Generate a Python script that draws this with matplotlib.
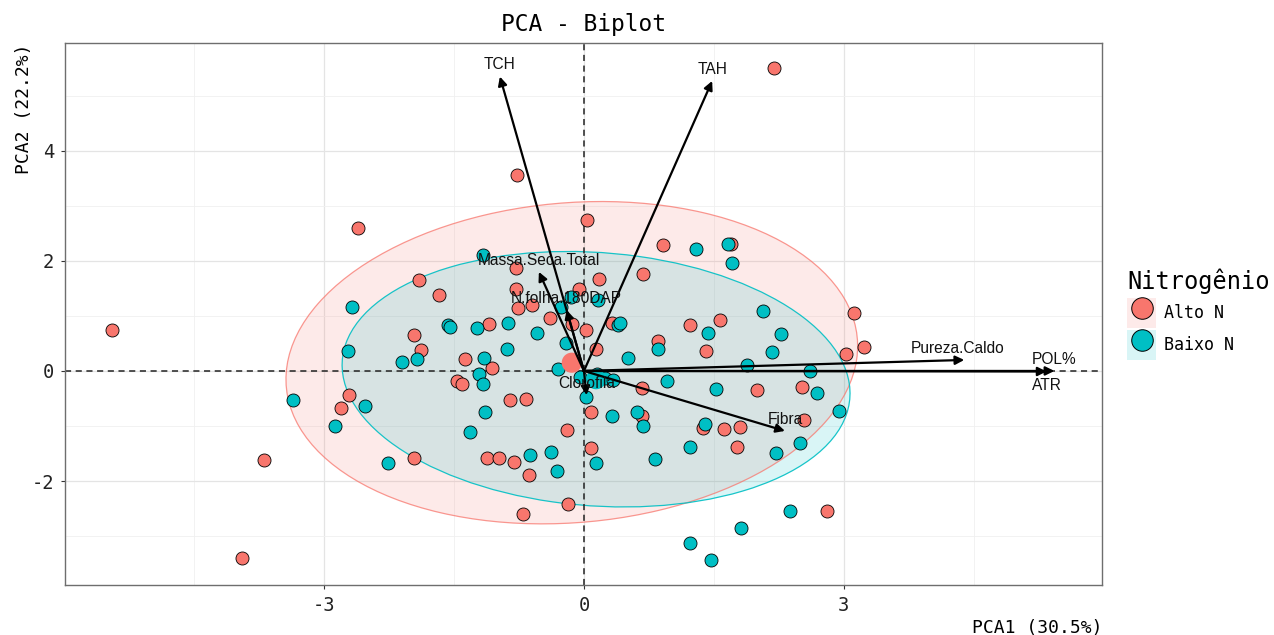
import numpy as np
import matplotlib.pyplot as plt
from matplotlib.patches import Ellipse, Patch
from matplotlib.lines import Line2D

plt.rcParams['axes.unicode_minus'] = False
MONO = 'DejaVu Sans Mono'
SANS = 'Liberation Sans'

# individual scores on PC1 / PC2, by nitrogen level
alto_pc1 = [-5.45, -2.61, -3.69, -3.95, -2.71, -2.80, -1.96, -1.90, -1.67, -1.88, -1.96, -1.37, -1.47,
            -1.41, -1.10, -1.06, -1.12, -0.98, -0.81, -0.63, -0.70, -0.85, -0.67, -0.77, -0.78, -0.78,
            -0.76, -0.60, -0.39, -0.14, 0.02, 0.03, -0.06, 0.17, 0.14, 0.32, -0.20, 0.08, 0.08, -0.18,
            0.68, 0.91, 0.85, 0.67, 0.67, 1.22, 1.57, 1.41, 1.37, 1.62, 1.80, 1.77, 1.70, 2.00, 2.19,
            2.52, 2.54, 2.80, 3.02, 3.12, 3.23]
alto_pc2 = [0.75, 2.60, -1.62, -3.40, -0.44, -0.67, 0.65, 1.65, 1.38, 0.38, -1.58, 0.22, -0.18,
            -0.24, 0.85, 0.05, -1.58, -1.58, -1.65, -1.89, -2.60, -0.53, -0.51, 3.56, 1.87, 1.49,
            1.15, 1.20, 0.96, 0.85, 0.75, 2.75, 1.49, 1.67, 0.40, 0.87, -1.07, -0.75, -1.40, -2.42,
            1.76, 2.29, 0.55, -0.31, -0.82, 0.84, 0.93, 0.36, -1.04, -1.05, -1.02, -1.38, 2.31, -0.35,
            5.51, -0.29, -0.89, -2.55, 0.31, 1.05, 0.44]

baixo_pc1 = [-3.36, -2.68, -2.72, -2.53, -2.87, -2.26, -2.10, -1.93, -1.57, -1.55, -1.23, -1.17, -0.88,
             -1.15, -1.21, -1.17, -0.89, -0.54, -1.14, -1.32, -0.62, -0.38, -0.31, -0.27, -0.15, 0.16,
             -0.21, -0.30, 0.02, 0.14, 0.32, 0.39, 0.42, 0.51, 0.61, 0.68, 0.82, 0.85, 0.96, 1.23,
             1.29, 1.40, 1.43, 1.52, 1.66, 1.71, 1.23, 1.47, 1.81, 1.88, 2.07, 2.17, 2.28, 2.38, 2.22,
             2.49, 2.61, 2.69, 2.94, -0.05, 0.15, 0.24, 0.33]
baixo_pc2 = [-0.53, 1.16, 0.36, -0.64, -1.00, -1.67, 0.16, 0.22, 0.84, 0.80, 0.78, 2.11, 0.87,
             0.24, -0.05, -0.24, 0.40, 0.69, -0.75, -1.11, -1.53, -1.47, -1.82, 1.16, 1.35, 1.29,
             0.51, 0.04, -0.47, -1.67, -0.82, 0.84, 0.87, 0.24, -0.75, -1.00, -1.60, 0.40, -0.18,
             -1.38, 2.22, -0.96, 0.69, -0.33, 2.31, 1.96, -3.13, -3.44, -2.85, 0.11, 1.09, 0.35,
             0.67, -2.55, -1.49, -1.31, 0.00, -0.40, -0.73, -0.11, -0.05, -0.13, -0.16]

# group centroids
alto_mean = (-0.14, 0.15)
baixo_mean = (0.14, -0.15)

# 95% normal ellipses: full width, full height (PC units), rotation (deg)
alto_ellipse = (6.71, 5.73, 20.4)
baixo_ellipse = (5.92, 4.57, -12.6)

# variable loadings (arrows)
variables = ['TCH', 'TAH', 'Massa.Seca.Total', 'N.folha.180DAP', 'Pureza.Caldo',
             'POL%', 'ATR', 'Fibra', 'Clorofila']
load_pc1 = [-0.97, 1.48, -0.52, -0.20, 4.39, 5.43, 5.34, 2.32, 0.03]
load_pc2 = [5.35, 5.27, 1.80, 1.11, 0.20, 0.00, -0.01, -1.09, -0.44]

groups = ['Alto N', 'Baixo N']
colors = ['#F8766D', '#00BFC4']
edge_alpha = [0.75, 0.9]

fig = plt.figure(figsize=(12.74, 6.35), dpi=100)
ax = fig.add_axes([65 / 1274, 1 - 585 / 635, 1037 / 1274, 542 / 635])

# ellipses
for (w, h, ang), mean, col, ea in zip([alto_ellipse, baixo_ellipse], [alto_mean, baixo_mean],
                                      colors, edge_alpha):
    ax.add_patch(Ellipse(mean, w, h, angle=ang, facecolor=col, alpha=0.15,
                         edgecolor='none', zorder=1))
    ax.add_patch(Ellipse(mean, w, h, angle=ang, facecolor='none',
                         edgecolor=col, alpha=ea, lw=0.9, zorder=1.2))

# reference lines
ax.axhline(0, color='#222222', lw=1.1, ls=(0, (4, 3)), zorder=1.5)
ax.axvline(0, color='#222222', lw=1.1, ls=(0, (4, 3)), zorder=1.5)

# individuals
ax.scatter(alto_pc1, alto_pc2, s=88, c=colors[0], edgecolors='black', linewidths=0.6, zorder=3)
ax.scatter(baixo_pc1, baixo_pc2, s=88, c=colors[1], edgecolors='black', linewidths=0.6, zorder=3)
ax.scatter(*alto_mean, s=210, c=colors[0], edgecolors='none', zorder=4)
ax.scatter(*baixo_mean, s=210, c=colors[1], edgecolors='none', zorder=4)

# variable arrows + labels
for name, x, y in zip(variables, load_pc1, load_pc2):
    ax.annotate('', xy=(x, y), xytext=(0, 0),
                arrowprops=dict(arrowstyle='-|>', color='black', lw=1.6,
                                mutation_scale=13, shrinkA=0, shrinkB=0), zorder=5)
    dy = -10 if name == 'ATR' else 8.5
    dx = -5 if name == 'Pureza.Caldo' else 0
    ax.annotate(name, xy=(x, y), xytext=(dx, dy), textcoords='offset points',
                ha='center', va='center', fontsize=11.2, family=SANS,
                color='#111111', zorder=6)

ax.set_xlim(-5.99, 5.98)
ax.set_ylim(-3.89, 5.96)
ax.set_xticks([-3, 0, 3])
ax.set_yticks([-2, 0, 2, 4])
ax.set_xticks([-4.5, -1.5, 1.5, 4.5], minor=True)
ax.set_yticks([-3, -1, 1, 3, 5], minor=True)
ax.set_axisbelow(True)
ax.grid(which='major', color='#E4E4E4', lw=0.9)
ax.grid(which='minor', color='#F0F0F0', lw=0.6)
ax.tick_params(which='minor', length=0)
ax.tick_params(which='major', length=3, width=0.8, color='#333333',
               labelsize=13.5, labelcolor='#222222', pad=5)
for lab in ax.get_xticklabels() + ax.get_yticklabels():
    lab.set_family(MONO)
for sp in ax.spines.values():
    sp.set_color('#6E6E6E')
    sp.set_linewidth(1.0)

ax.set_xlabel('PCA1 (30.5%)', loc='right', fontsize=13, family=MONO, labelpad=3)
ax.set_ylabel('PCA2 (22.2%)', loc='top', fontsize=13, family=MONO, labelpad=-1)
ax.set_title('PCA - Biplot', fontsize=16.5, family=MONO, pad=9)

# legend: point over a tinted key
handles = [(Patch(facecolor=c, alpha=0.15, edgecolor='none'),
            Line2D([], [], marker='o', ls='', ms=15.5, mfc=c, mec='black', mew=0.7))
           for c in colors]
leg = fig.legend(handles, groups, loc='upper left', bbox_to_anchor=(0.882, 0.583),
                 frameon=False, title='Nitrogênio', alignment='left',
                 prop={'family': MONO, 'size': 12}, handlelength=1.75, handleheight=2.45,
                 labelspacing=0.08, handletextpad=0.45, borderpad=0.2, borderaxespad=0)
leg.get_title().set_fontsize(17)
leg.get_title().set_family(MONO)
leg._legend_box.sep = 3

fig.savefig('out.png', dpi=100)
